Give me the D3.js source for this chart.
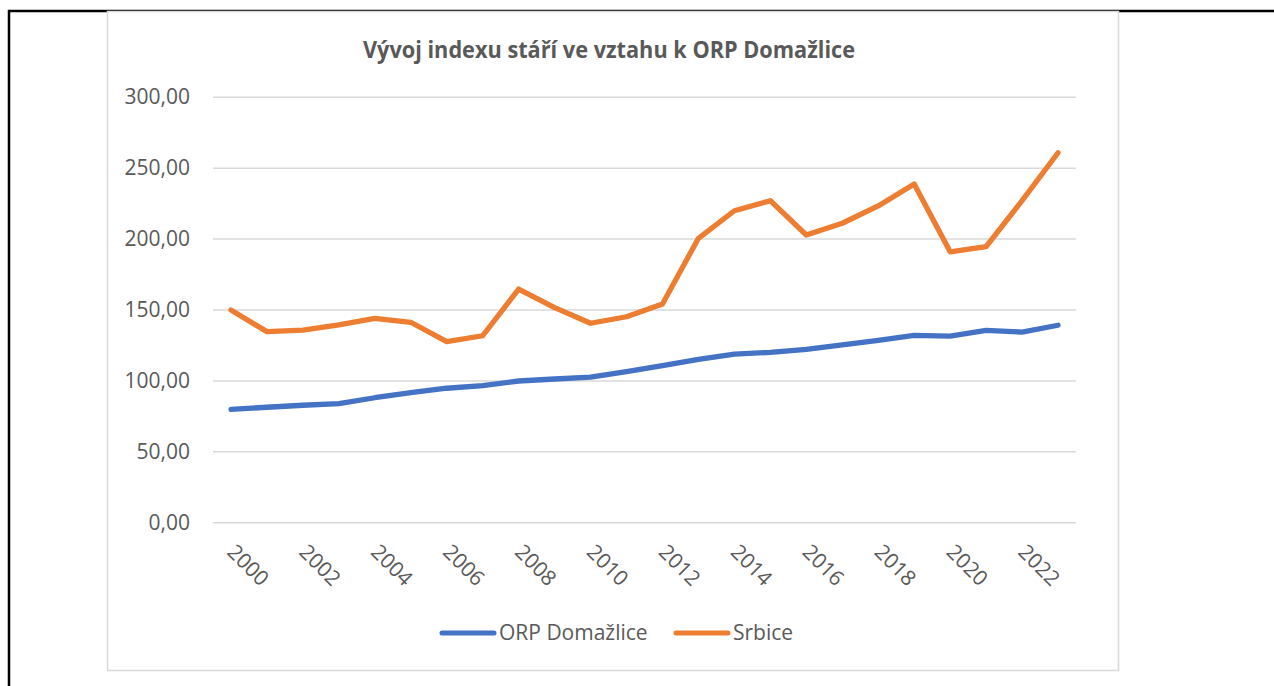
<!DOCTYPE html>
<html>
<head>
<meta charset="utf-8">
<script src="https://cdn.jsdelivr.net/npm/d3@7"></script>
<style>
  html, body { margin: 0; padding: 0; background: #fff; }
  svg { display: block; font-family: "Open Sans", "Noto Sans", sans-serif; }
</style>
</head>
<body>
<svg id="chart" width="1274" height="686"></svg>
<script>
  // data
  var years = d3.range(2000, 2024);
  var orpDomazlice = [79.6, 81.1, 82.5, 83.6, 87.8, 91.4, 94.5, 96.3, 99.6, 101.0, 102.3, 106.2,
    110.4, 114.9, 118.6, 119.8, 121.9, 125.0, 128.3, 131.8, 131.3, 135.3, 134.1, 138.9];
  var srbice = [149.6, 134.4, 135.5, 139.1, 143.8, 141.0, 127.3, 131.5, 164.4, 151.3, 140.3, 144.9,
    153.9, 200.2, 219.6, 226.7, 202.5, 210.8, 223.0, 238.5, 190.7, 194.3, 226.7, 260.5];
  var yTicks = [0, 50, 100, 150, 200, 250, 300];
  var xTickYears = years.filter(function(d) { return d % 2 === 0; });
  var seriesNames = ['ORP Domažlice', 'Srbice'];
  var seriesColors = ['#4472C4', '#ED7D31'];
  var titleText = 'Vývoj indexu stáří ve vztahu k ORP Domažlice';

  var textColor = '#595959';
  var gridColor = '#d9d9d9';
  var plot = {left: 213, right: 1076, top: 96.7, bottom: 522.3};

  var svg = d3.select('#chart');

  // page border lines
  svg.append('line').attr('x1', 8).attr('x2', 1274).attr('y1', 11).attr('y2', 11)
    .attr('stroke', '#000').attr('stroke-width', 2.5);
  svg.append('line').attr('x1', 9).attr('x2', 9).attr('y1', 10).attr('y2', 686)
    .attr('stroke', '#000').attr('stroke-width', 2.5);

  // chart frame
  svg.append('rect').attr('x', 107.5).attr('y', 11.5).attr('width', 1011).attr('height', 659)
    .attr('fill', '#fff').attr('stroke', gridColor).attr('stroke-width', 1.5);

  var x = d3.scaleBand().domain(years).range([plot.left, plot.right]).padding(0);
  var y = d3.scaleLinear().domain([0, 300]).range([plot.bottom, plot.top]);
  var cx = function(d) { return x(d) + x.bandwidth() / 2; };

  var locale = d3.formatLocale({decimal: ',', thousands: ' ', grouping: [3], currency: ['', '']});
  var fmt = locale.format('.2f');

  // y axis with gridlines
  var yAxis = svg.append('g')
    .attr('transform', 'translate(' + plot.left + ',0)')
    .call(d3.axisLeft(y).tickValues(yTicks).tickFormat(fmt)
      .tickSize(-(plot.right - plot.left)).tickPadding(23));
  yAxis.select('.domain').remove();
  yAxis.selectAll('.tick line').attr('stroke', gridColor).attr('stroke-width', 1.5);
  yAxis.selectAll('.tick text').attr('fill', textColor)
    .style('font-size', '21px').style('font-family', '"Open Sans", sans-serif');

  // x axis labels, rotated
  var xAxis = svg.append('g')
    .attr('transform', 'translate(0,' + plot.bottom + ')')
    .call(d3.axisBottom(x).tickValues(xTickYears).tickSize(0));
  xAxis.select('.domain').remove();
  xAxis.selectAll('.tick text')
    .attr('fill', textColor)
    .style('font-size', '21px').style('font-family', '"Open Sans", sans-serif')
    .attr('text-anchor', 'start')
    .attr('dy', null)
    .attr('y', 0)
    .attr('transform', 'translate(-5,31) rotate(45)');

  // lines
  var line = d3.line()
    .x(function(d, i) { return cx(years[i]); })
    .y(function(d) { return y(d); });
  [orpDomazlice, srbice].forEach(function(values, i) {
    svg.append('path')
      .datum(values)
      .attr('d', line)
      .attr('fill', 'none')
      .attr('stroke', seriesColors[i])
      .attr('stroke-width', 5.3)
      .attr('stroke-linejoin', 'round')
      .attr('stroke-linecap', 'round');
  });

  // title
  svg.append('text')
    .attr('x', 609).attr('y', 58)
    .attr('text-anchor', 'middle')
    .attr('fill', textColor)
    .attr('textLength', 492)
    .attr('lengthAdjust', 'spacingAndGlyphs')
    .style('font-size', '23.5px').style('font-weight', 'bold')
    .text(titleText);

  // legend
  var legendItems = [{x: 440}, {x: 674}];
  var legend = svg.append('g').attr('transform', 'translate(0,633)');
  seriesNames.forEach(function(name, i) {
    var lx = legendItems[i].x;
    legend.append('line').attr('x1', lx + 2).attr('x2', lx + 54).attr('y1', 0).attr('y2', 0)
      .attr('stroke', seriesColors[i]).attr('stroke-width', 5).attr('stroke-linecap', 'round');
    legend.append('text').attr('x', lx + 59).attr('y', 0).attr('dy', '0.35em')
      .attr('fill', textColor).style('font-size', '21px')
      .text(name);
  });
</script>
</body>
</html>
